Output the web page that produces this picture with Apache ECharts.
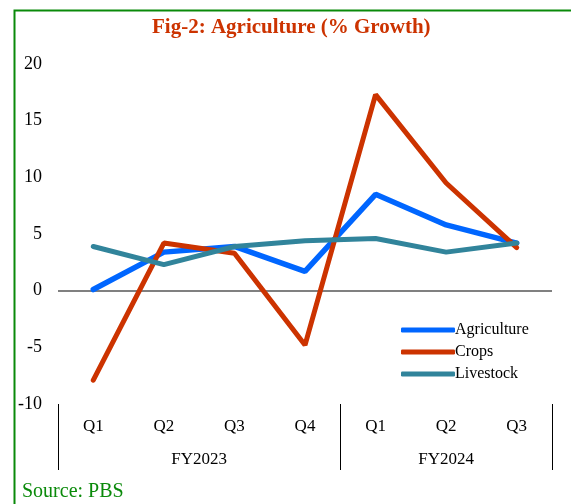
<!DOCTYPE html>
<html>
<head>
<meta charset="utf-8">
<script src="https://cdn.jsdelivr.net/npm/echarts@6/dist/echarts.min.js"></script>
<style>
html,body{margin:0;padding:0;background:#fff;}
#chart{width:571px;height:504px;}
</style>
</head>
<body>
<div id="chart"></div>
<script>
const quarters = ['Q1','Q2','Q3','Q4','Q1','Q2','Q3'];
const fiscalYears = ['FY2023','FY2024'];
const fiscalBounds = [0, 4, 7];
const fiscalCenters = [2, 5.5];
const agriculture = [0.1, 3.4, 3.9, 1.7, 8.5, 5.8, 4.2];
const crops = [-7.9, 4.2, 3.3, -4.8, 17.3, 9.5, 3.8];
const livestock = [3.9, 2.3, 3.9, 4.4, 4.6, 3.4, 4.2];
const yTicks = [-10, -5, 0, 5, 10, 15, 20];

const serif = '"Liberation Serif", "Times New Roman", serif';
const chart = echarts.init(document.getElementById('chart'));
chart.setOption({
  animation: false,
  backgroundColor: '#fff',
  graphic: [{
    type: 'rect', left: 12, top: 8, silent: true,
    shape: {width: 700, height: 700},
    style: {fill: 'none', stroke: '#0a8a0a', lineWidth: 2}
  }],
  title: [{
    text: 'Fig-2: Agriculture (% Growth)',
    left: 147, top: 12,
    textStyle: {fontFamily: serif, fontSize: 21, fontWeight: 'bold', color: '#CC3300'}
  }, {
    text: 'Source: PBS',
    left: 17, top: 477,
    textStyle: {fontFamily: serif, fontSize: 20, fontWeight: 'normal', color: '#0a8a0a'}
  }],
  legend: {
    orient: 'vertical', left: 396, top: 317,
    itemWidth: 54, itemHeight: 5, itemGap: 6,
    icon: 'roundRect',
    textStyle: {fontFamily: serif, fontSize: 16, color: '#000', padding: [0,0,0,-5]},
    data: ['Agriculture','Crops','Livestock']
  },
  grid: {left: 58, right: 19, top: 64, bottom: 100},
  xAxis: [{
    type: 'category', data: quarters, position: 'bottom',
    axisLine: {show: false}, axisTick: {show: false},
    axisLabel: {fontFamily: serif, fontSize: 17, color: '#000', margin: 14}
  }, {
    type: 'value', min: 0, max: 7, position: 'bottom',
    axisLine: {show: false}, splitLine: {show: false},
    axisTick: {show: true, customValues: fiscalBounds, length: 66, inside: false,
      lineStyle: {color: '#000', width: 1}},
    axisLabel: {show: true, customValues: fiscalCenters, margin: 47,
      fontFamily: serif, fontSize: 17, color: '#000',
      formatter: v => fiscalYears[fiscalCenters.indexOf(v)]}
  }],
  yAxis: {
    type: 'value', min: -10, max: 20, interval: 5,
    axisLine: {show: false}, axisTick: {show: false}, splitLine: {show: false},
    axisLabel: {fontFamily: serif, fontSize: 18, color: '#000', margin: 16,
      customValues: yTicks}
  },
  series: [{
    name: 'Agriculture', type: 'line', data: agriculture, symbol: 'none',
    color: '#0066FF', lineStyle: {width: 5.5, color: '#0066FF', cap: 'round'}, z: 3,
    markLine: {silent: true, symbol: 'none', label: {show: false},
      lineStyle: {color: '#808080', width: 2, type: 'solid'},
      data: [{yAxis: 0}], z: 1}
  }, {
    name: 'Crops', type: 'line', data: crops, symbol: 'none',
    color: '#CC3300', lineStyle: {width: 5, color: '#CC3300', cap: 'round'}, z: 4
  }, {
    name: 'Livestock', type: 'line', data: livestock, symbol: 'none',
    color: '#31849B', lineStyle: {width: 5, color: '#31849B', cap: 'round'}, z: 5
  }]
});
</script>
</body>
</html>
